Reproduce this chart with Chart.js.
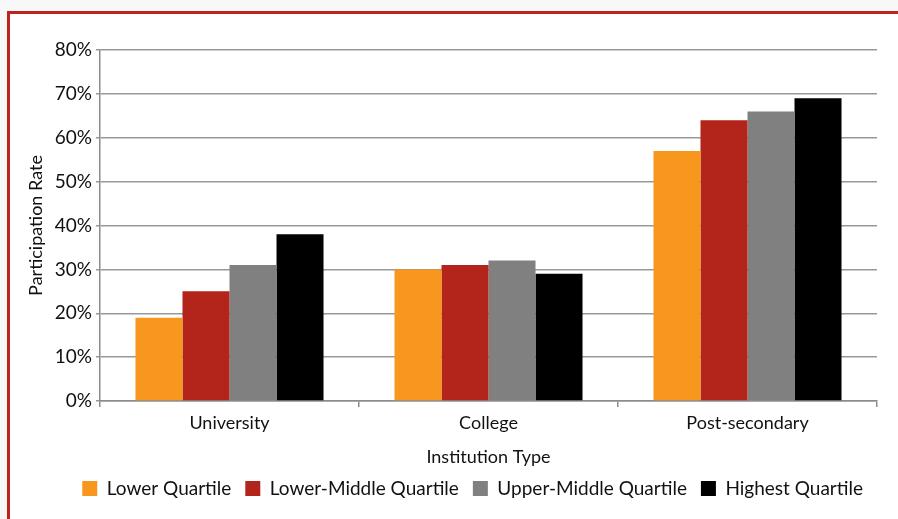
<!DOCTYPE html>
<html>
<head>
<meta charset="utf-8">
<script src="https://cdn.jsdelivr.net/npm/chart.js@4.4.1/dist/chart.umd.min.js"></script>
<style>
  html, body { margin: 0; padding: 0; background: #f8f8f8; }
  #wrap { position: relative; width: 898px; height: 519px; overflow: hidden; }
  #frame { position: absolute; left: 7px; top: 11px; width: 900px; height: 520px;
           border-left: 3px solid #c0231f; border-top: 3px solid #c0231f; background: #fff; }
  #c { position: absolute; left: 0; top: 0; }
</style>
</head>
<body>
<div id="wrap">
  <div id="frame"></div>
  <canvas id="c" width="898" height="519"></canvas>
</div>
<script>
const categories = ["University", "College", "Post-secondary"];
const seriesNames = ["Lower Quartile", "Lower-Middle Quartile", "Upper-Middle Quartile", "Highest Quartile"];
const lowerQuartile = [19, 30, 57];
const lowerMiddleQuartile = [25, 31, 64];
const upperMiddleQuartile = [31, 32, 66];
const highestQuartile = [38, 29, 69];
const yTicks = [0, 10, 20, 30, 40, 50, 60, 70, 80];
const colors = ["#f7971d", "#b3241b", "#808080", "#000000"];

const FONT = "Lato, 'Noto Sans', sans-serif";
const values = [lowerQuartile, lowerMiddleQuartile, upperMiddleQuartile, highestQuartile];

new Chart(document.getElementById("c"), {
  type: "bar",
  data: {
    labels: categories,
    datasets: seriesNames.map((n, i) => ({
      label: n,
      data: values[i],
      backgroundColor: colors[i],
      borderWidth: 0,
      categoryPercentage: 0.726,
      barPercentage: 1.0
    }))
  },
  options: {
    responsive: false,
    animation: false,
    devicePixelRatio: 1,
    layout: { padding: { left: 25, right: 21, top: 50, bottom: 11 } },
    plugins: {
      tooltip: { enabled: false },
      legend: {
        position: "bottom",
        align: "end",
        labels: {
          boxWidth: 15, boxHeight: 15, padding: 14,
          color: "#111",
          font: { family: FONT, size: 19 }
        }
      }
    },
    scales: {
      x: {
        afterFit: s => { s.height = 64; },
        grid: { drawOnChartArea: false, drawTicks: true, tickLength: 6, color: "#8c8c8c", lineWidth: 1.5 },
        border: { color: "#8c8c8c", width: 1.5 },
        ticks: { color: "#111", font: { family: FONT, size: 18 }, padding: 5 },
        title: { display: true, text: "Institution Type", color: "#111", font: { family: FONT, size: 18 }, padding: { top: 0, bottom: -3 } }
      },
      y: {
        min: 0, max: 80,
        afterFit: s => { s.width = 75; },
        afterBuildTicks: s => { s.ticks = yTicks.map(v => ({ value: v })); },
        grid: { color: "#999", lineWidth: 1.5, drawTicks: true, tickLength: 4 },
        border: { color: "#8c8c8c", width: 1.5 },
        ticks: { color: "#111", font: { family: FONT, size: 19 }, padding: 4, callback: v => v + "%" },
        title: { display: true, text: "Participation Rate", color: "#111", font: { family: FONT, size: 18 }, padding: { top: 0, bottom: 0 } }
      }
    }
  }
});
</script>
</body>
</html>
